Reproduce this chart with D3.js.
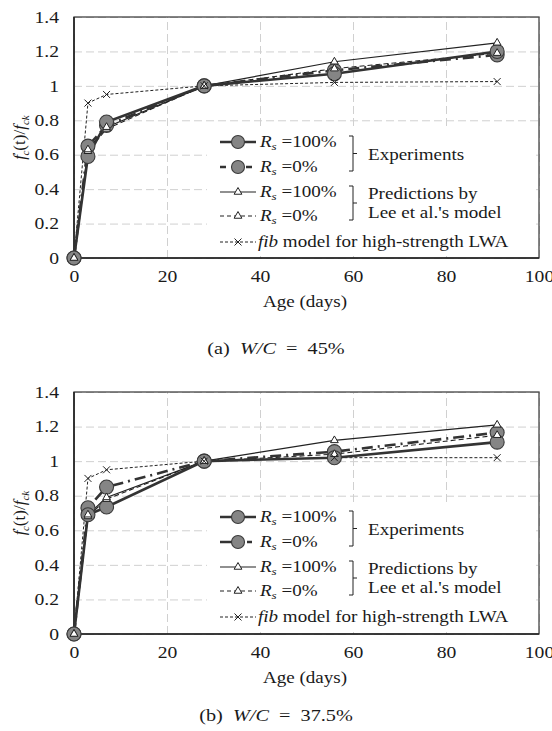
<!DOCTYPE html>
<html>
<head>
<meta charset="utf-8">
<script src="https://cdn.jsdelivr.net/npm/d3@7"></script>
<style>
  body { margin: 0; background: #fff; }
  svg { display: block; }
  text { font-family: "Liberation Serif", "Times New Roman", serif; fill: #1a1a1a; }
</style>
</head>
<body>
<svg id="chart" width="552" height="731"></svg>
<script>
/*
  Strength development of LWA concrete, two panels (W/C = 45% and 37.5%)
*/
const ages = [0, 3, 7, 28, 56, 91];
const xTicks = [0, 20, 40, 60, 80, 100];
const yTicks = [0, 0.2, 0.4, 0.6, 0.8, 1, 1.2, 1.4];

// (a) W/C = 45%
const expA100 = [0, 0.59, 0.79, 1.0, 1.07, 1.20];
const expA0 = [0, 0.65, 0.77, 1.0, 1.09, 1.18];
const predA100 = [0, 0.63, 0.76, 1.0, 1.14, 1.25];
const predA0 = [0, 0.62, 0.75, 1.0, 1.10, 1.19];
const fibA = [0, 0.90, 0.95, 1.0, 1.02, 1.025];

// (b) W/C = 37.5%
const expB100 = [0, 0.69, 0.735, 1.0, 1.02, 1.11];
const expB0 = [0, 0.73, 0.85, 1.0, 1.055, 1.165];
const predB100 = [0, 0.69, 0.79, 1.0, 1.12, 1.21];
const predB0 = [0, 0.68, 0.78, 1.0, 1.04, 1.15];
const fibB = [0, 0.90, 0.95, 1.0, 1.02, 1.02];

const legendRows = ['=100%', '=0%', '=100%', '=0%'];

const STRETCH = 1.19;
const FONT = 16;

const svg = d3.select('#chart');

/**
 * Widen a text horizontally (the source figure is slightly stretched)
 */
function stretch(sel, k) {
  sel.each(function() {
    const w = this.getComputedTextLength();
    d3.select(this).attr('textLength', w * k).attr('lengthAdjust', 'spacingAndGlyphs');
  });
}

function drawPanel(p) {
  const margin = { left: 74, right: 539, top: p.top, bottom: p.bottom };

  const scale = {};
  scale.x = d3.scaleLinear().domain([0, 100]).range([margin.left, margin.right]);
  scale.y = d3.scaleLinear().domain([0, 1.4]).range([margin.bottom, margin.top]);

  const g = svg.append('g');

  // grid
  g.append('g')
    .attr('transform', `translate(0, ${margin.bottom})`)
    .call(d3.axisBottom(scale.x).tickValues(xTicks).tickSize(-(margin.bottom - margin.top)).tickFormat(''))
    .call(s => s.select('.domain').remove())
    .selectAll('line').attr('stroke', '#d0d0d0').attr('stroke-dasharray', '8,4');

  g.append('g')
    .attr('transform', `translate(${margin.left}, 0)`)
    .call(d3.axisLeft(scale.y).tickValues(yTicks).tickSize(-(margin.right - margin.left)).tickFormat(''))
    .call(s => s.select('.domain').remove())
    .selectAll('line').attr('stroke', '#d0d0d0').attr('stroke-dasharray', '8,4');

  // legend background hides grid
  g.append('rect')
    .attr('x', 207).attr('y', margin.top + 113)
    .attr('width', 329).attr('height', margin.bottom - margin.top - 115)
    .attr('fill', '#fff');

  // frame
  g.append('rect')
    .attr('x', margin.left).attr('y', margin.top)
    .attr('width', margin.right - margin.left).attr('height', margin.bottom - margin.top)
    .attr('fill', 'none').attr('stroke', '#444').attr('stroke-width', 1.3);
  g.append('path')
    .attr('d', `M${margin.left},${margin.top}V${margin.bottom}H${margin.right}`)
    .attr('fill', 'none').attr('stroke', '#222').attr('stroke-width', 1.6);

  // tick labels
  const xAx = g.append('g')
    .attr('transform', `translate(0, ${margin.bottom})`)
    .call(d3.axisBottom(scale.x).tickValues(xTicks).tickSize(0).tickPadding(12).tickFormat(d3.format('d')));
  const yAx = g.append('g')
    .attr('transform', `translate(${margin.left}, 0)`)
    .call(d3.axisLeft(scale.y).tickValues(yTicks).tickSize(0).tickPadding(15).tickFormat(d => d));
  [xAx, yAx].forEach(a => {
    a.select('.domain').remove();
    a.selectAll('text').attr('font-size', FONT + 0.5).attr('font-family', '"Liberation Serif", serif').attr('fill', '#1a1a1a');
    stretch(a.selectAll('text'), STRETCH);
  });

  // lines
  const line = vals => d3.line().x((d, i) => scale.x(ages[i])).y(d => scale.y(d))(vals);
  const series = [
    { v: p.fib, w: 1, dash: '3,2', c: '#222' },
    { v: p.pred0, w: 1.1, dash: '5,3', c: '#222' },
    { v: p.pred100, w: 1.2, dash: null, c: '#222' },
    { v: p.exp0, w: 2.6, dash: '11,5,2,5', c: '#333' },
    { v: p.exp100, w: 2.6, dash: null, c: '#333' }
  ];
  series.forEach(s => {
    g.append('path').attr('d', line(s.v)).attr('fill', 'none')
      .attr('stroke', s.c).attr('stroke-width', s.w)
      .attr('stroke-dasharray', s.dash);
  });

  // markers
  const circleSym = (sel, x, y) => sel.append('circle').attr('cx', x).attr('cy', y).attr('r', 7)
    .attr('fill', '#858585').attr('stroke', '#3a3a3a').attr('stroke-width', 1.1);
  const triSym = (sel, x, y) => sel.append('path')
    .attr('d', d3.symbol(d3.symbolTriangle, 26)())
    .attr('transform', `translate(${x}, ${y})`)
    .attr('fill', '#fff').attr('stroke', '#222').attr('stroke-width', 1);
  const crossSym = (sel, x, y) => sel.append('path')
    .attr('d', `M${x - 3.5},${y - 3.5}L${x + 3.5},${y + 3.5}M${x - 3.5},${y + 3.5}L${x + 3.5},${y - 3.5}`)
    .attr('stroke', '#222').attr('stroke-width', 1);

  [p.exp0, p.exp100].forEach(v => v.forEach((d, i) => circleSym(g, scale.x(ages[i]), scale.y(d))));
  [p.pred0, p.pred100].forEach(v => v.forEach((d, i) => triSym(g, scale.x(ages[i]), scale.y(d))));
  p.fib.forEach((d, i) => { if (i > 0) crossSym(g, scale.x(ages[i]), scale.y(d)); });

  /*
   * Legend
   */
  const rowY = [125, 150, 175, 199, 225].map(o => margin.top + o);
  const lx0 = 220, lx1 = 256, lm = 238;
  const legSeries = [series[4], series[3], series[2], series[1], series[0]];
  legSeries.forEach((s, i) => {
    g.append('line').attr('x1', lx0).attr('x2', lx1).attr('y1', rowY[i]).attr('y2', rowY[i])
      .attr('stroke', s.c).attr('stroke-width', s.w)
      .attr('stroke-dasharray', i === 1 ? p.legDash : (i === 3 ? '4,3' : s.dash));
  });
  circleSym(g, lm, rowY[0]).attr('r', 6.5);
  circleSym(g, lm, rowY[1]).attr('r', 6.5);
  triSym(g, lm, rowY[2]);
  triSym(g, lm, rowY[3]);
  crossSym(g, lm, rowY[4]);

  legendRows.forEach((t, i) => {
    const tx = g.append('text').attr('x', 260).attr('y', rowY[i] + 5).attr('font-size', FONT);
    tx.append('tspan').attr('font-style', 'italic').text('R');
    tx.append('tspan').attr('font-style', 'italic').attr('font-size', 11).attr('dy', 3).text('s');
    tx.append('tspan').attr('dy', -3).text(' ' + t);
    stretch(tx, STRETCH);
  });
  const fibT = g.append('text').attr('x', 258).attr('y', rowY[4] + 5).attr('font-size', FONT);
  fibT.append('tspan').attr('font-style', 'italic').text('fib');
  fibT.append('tspan').text(' model for high-strength LWA');
  stretch(fibT, STRETCH);

  // brackets
  const bx = 353;
  [[rowY[0] - 6, rowY[1] + 4], [rowY[2] - 6, rowY[3] + 4]].forEach(([a, b]) => {
    const m = (a + b) / 2;
    g.append('path')
      .attr('d', `M${bx - 4},${a}H${bx}V${b}H${bx - 4}M${bx},${m}H${bx + 4}`)
      .attr('fill', 'none').attr('stroke', '#222').attr('stroke-width', 1);
  });
  const gt = [
    ['Experiments', (rowY[0] + rowY[1]) / 2 + 5],
    ['Predictions by', rowY[2] + 7],
    ["Lee et al.'s model", rowY[3] + 2]
  ];
  gt.forEach(([t, y]) => {
    stretch(g.append('text').attr('x', 368).attr('y', y).attr('font-size', FONT).text(t), STRETCH);
  });

  // axis titles
  const yl = g.append('text')
    .attr('transform', `translate(25, ${(margin.top + margin.bottom) / 2}) rotate(-90)`)
    .attr('text-anchor', 'middle').attr('font-size', FONT + 1);
  yl.append('tspan').attr('font-style', 'italic').text('f');
  yl.append('tspan').attr('font-size', 11).attr('dy', -5).text('′');
  yl.append('tspan').attr('font-style', 'italic').attr('font-size', 11).attr('dx', -3).attr('dy', 9).text('c');
  yl.append('tspan').attr('dy', -4).text('(t)/');
  yl.append('tspan').attr('font-style', 'italic').text('f');
  yl.append('tspan').attr('font-style', 'italic').attr('font-size', 11).attr('dy', 4).text('ck');

  stretch(g.append('text').attr('x', 305).attr('y', margin.bottom + 49)
    .attr('text-anchor', 'middle').attr('font-size', FONT).text('Age (days)'), STRETCH);

  const cap = g.append('text').attr('x', 276).attr('y', p.capY)
    .attr('text-anchor', 'middle').attr('font-size', FONT + 1);
  cap.append('tspan').text(p.label + '\u00a0\u00a0');
  cap.append('tspan').attr('font-style', 'italic').text('W/C');
  cap.append('tspan').text('\u00a0\u00a0=\u00a0\u00a0' + p.wc);
  stretch(cap, STRETCH);
}

drawPanel({ top: 17, bottom: 258, capY: 354, label: '(a)', wc: '45%', legDash: '6,20,6,10',
  exp100: expA100, exp0: expA0, pred100: predA100, pred0: predA0, fib: fibA });
drawPanel({ top: 392, bottom: 634, capY: 721, label: '(b)', wc: '37.5%', legDash: '12,15,5,10',
  exp100: expB100, exp0: expB0, pred100: predB100, pred0: predB0, fib: fibB });
</script>
</body>
</html>
